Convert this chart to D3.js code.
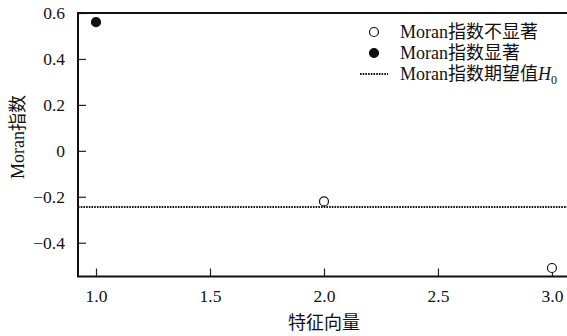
<!DOCTYPE html>
<html><head><meta charset="utf-8">
<script src="https://cdn.jsdelivr.net/npm/d3@7"></script>
<style>
html,body{margin:0;padding:0;background:#fff;}
svg{display:block;}
text{fill:#111;}
.tk text{font-family:"Liberation Serif","Times New Roman",serif !important;font-size:17.5px !important;}
</style></head>
<body>
<svg id="chart" width="567" height="336"></svg>
<script>
const eigenIndex = [1, 2, 3];
const moranValues = [0.56, -0.22, -0.51];
const significant = [true, false, false];
const expectedH0 = -0.245;
const xTicks = [1.0, 1.5, 2.0, 2.5, 3.0];
const yTicks = [0.6, 0.4, 0.2, 0, -0.2, -0.4];
const legendLabels = ["Moran指数不显著", "Moran指数显著", "Moran指数期望值"];
const xTitle = "特征向量";
const yTitle = "Moran指数";

const latin = "Liberation Serif, serif";
const cjk = "Liberation Serif, Noto Sans CJK SC, serif";

const svg = d3.select("#chart");
const L = 78, T = 13, R = 567, B = 276.5;
const x = d3.scaleLinear().domain([0.921, 3.066]).range([L, R]);
const y = d3.scaleLinear().domain([-0.547, 0.6]).range([B, T]);

// axes
const xAxis = d3.axisBottom(x).tickValues(xTicks).tickFormat(d3.format(".1f")).tickSizeInner(-8).tickSizeOuter(0).tickPadding(13);
const gx = svg.append("g").attr("class", "tk").attr("transform", `translate(0,${B})`).call(xAxis);
gx.attr("font-family", null).attr("font-size", null);
gx.select(".domain").remove();
gx.selectAll("line").attr("stroke", "#222").attr("stroke-width", 1.2);
gx.selectAll("text").attr("fill", "#111");

const yAxis = d3.axisLeft(y).tickValues(yTicks).tickFormat(d => d === 0 ? "0" : d3.format(".1f")(d).replace("-", "\u2212")).tickSizeInner(-8).tickSizeOuter(0).tickPadding(13);
const gy = svg.append("g").attr("class", "tk").attr("transform", `translate(${L},0)`).call(yAxis);
gy.attr("font-family", null).attr("font-size", null);
gy.select(".domain").remove();
gy.selectAll("line").attr("stroke", "#222").attr("stroke-width", 1.2);
gy.selectAll("text").attr("fill", "#111");

// frame
svg.append("path").attr("d", `M${R},${T}H${L}V${B}H${R}`).attr("fill", "none").attr("stroke", "#111").attr("stroke-width", 2);

// expected line
svg.append("line").attr("x1", L).attr("x2", R).attr("y1", y(expectedH0)).attr("y2", y(expectedH0))
  .attr("stroke", "#111").attr("stroke-width", 2).attr("stroke-dasharray", "1.6,1.1");

// points
svg.selectAll("circle.pt").data(eigenIndex.map((e, i) => ({e, v: moranValues[i], s: significant[i]})))
  .enter().append("circle").attr("class", "pt")
  .attr("cx", d => x(d.e)).attr("cy", d => y(d.v)).attr("r", 4.5)
  .attr("fill", d => d.s ? "#111" : "#fff").attr("stroke", "#111").attr("stroke-width", 1.2);

// titles
svg.append("text").attr("x", x(2)).attr("y", 329).attr("text-anchor", "middle")
  .style("font-family", cjk).style("font-size", "18px").text(xTitle);
svg.append("text").attr("transform", "translate(24,137) rotate(-90)").attr("text-anchor", "middle")
  .style("font-family", cjk).style("font-size", "18px").text(yTitle);

// legend
const lg = svg.append("g");
const rows = [32, 53, 74];
lg.append("circle").attr("cx", 374).attr("cy", rows[0]).attr("r", 4.5).attr("fill", "#fff").attr("stroke", "#111").attr("stroke-width", 1.2);
lg.append("circle").attr("cx", 374).attr("cy", rows[1]).attr("r", 4.5).attr("fill", "#111").attr("stroke", "#111").attr("stroke-width", 1.2);
lg.append("line").attr("x1", 360).attr("x2", 388).attr("y1", rows[2]).attr("y2", rows[2]).attr("stroke", "#111").attr("stroke-width", 2).attr("stroke-dasharray", "1.6,1.1");
legendLabels.forEach((t, i) => {
  const tx = lg.append("text").attr("x", 400).attr("y", rows[i] + 6).style("font-family", cjk).style("font-size", "18px").text(t);
  if (i === 2) {
    tx.append("tspan").style("font-style", "italic").style("font-family", latin).text("H");
    tx.append("tspan").style("font-family", latin).style("font-size", "12px").attr("dy", 4).text("0");
  }
});
</script>
</body></html>
